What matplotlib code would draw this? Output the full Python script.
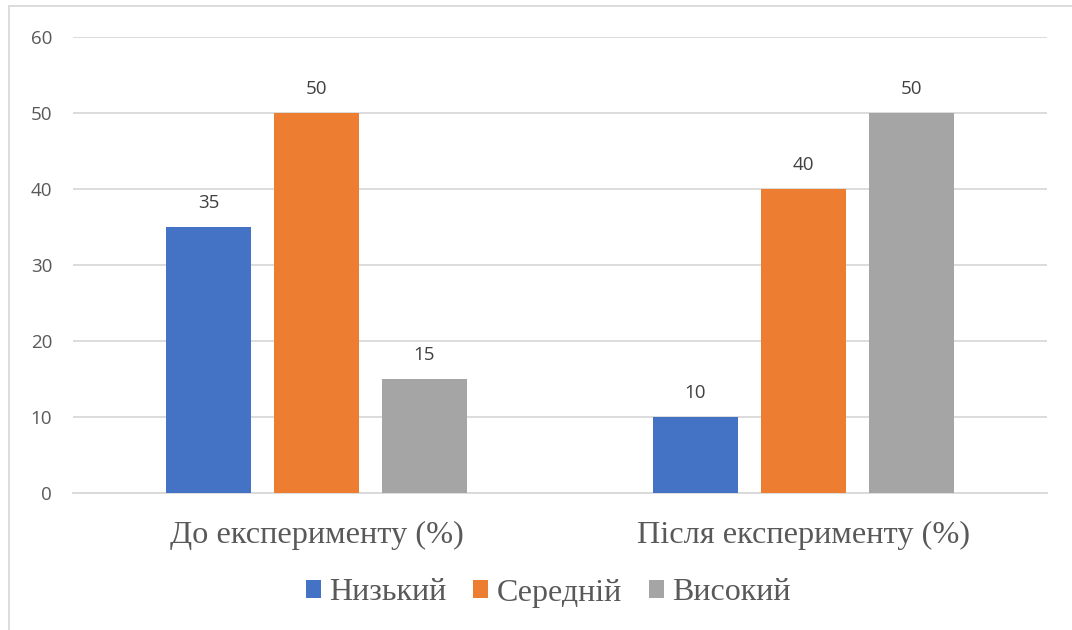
import matplotlib
matplotlib.use("Agg")
import matplotlib.pyplot as plt
from matplotlib.patches import Rectangle
import numpy as np

categories = ["До експерименту (%)", "Після експерименту (%)"]
series_names = ["Низький", "Середній", "Високий"]
low = [35, 10]
mid = [50, 40]
high = [15, 50]
yticks = [0, 10, 20, 30, 40, 50, 60]

colors = ["#4472C4", "#ED7D31", "#A5A5A5"]
text_col = "#595959"

W, H = 1072, 630
fig = plt.figure(figsize=(W / 100, H / 100), dpi=100)
ax = fig.add_axes([73 / W, 1 - 493 / H, (1047 - 73) / W, (493 - 37) / H])

x = np.arange(len(categories))
width = 0.1745
step = 0.2218
for i, (vals, name, c) in enumerate(zip([low, mid, high], series_names, colors)):
    pos = x + (i - 1) * step
    bars = ax.bar(pos, vals, width=width, color=c, label=name, zorder=3)
    for b, v in zip(bars, vals):
        ax.annotate(str(v), (b.get_x() + b.get_width() / 2, v),
                    xytext=(0, 11), textcoords="offset points",
                    ha="center", va="bottom", fontsize=13.5,
                    family="Open Sans", color="#404040")

ax.set_xlim(-0.5, 1.5)
ax.set_ylim(0, 60)
ax.set_yticks(yticks)
ax.set_yticklabels([str(t) for t in yticks], family="Open Sans", fontsize=13.5, color=text_col)
ax.yaxis.grid(True, color="#D9D9D9", linewidth=1.3, zorder=0)
ax.tick_params(axis="y", length=0, pad=15)
ax.tick_params(axis="x", length=0, pad=20)
ax.set_xticks(x)
ax.set_xticklabels(categories, family="Liberation Serif", fontsize=23.3, color=text_col)
for s in ["top", "right", "left"]:
    ax.spines[s].set_visible(False)
ax.spines["bottom"].set_color("#D9D9D9")
ax.spines["bottom"].set_linewidth(1.3)

leg = fig.legend(loc="center", bbox_to_anchor=(548 / W, 1 - 593 / H), ncol=3,
                 frameon=False, prop={"family": "Liberation Serif", "size": 23},
                 handlelength=0.47, handleheight=0.47, handletextpad=0.25,
                 columnspacing=0.85)
for t in leg.get_texts():
    t.set_color(text_col)

# outer chart frame (top and left edges visible)
fig.patches.append(Rectangle((9 / W, -0.1), 1.1, 1 - 6 / H + 0.1,
                             transform=fig.transFigure, fill=False,
                             edgecolor="#D9D9D9", linewidth=1.3))

fig.savefig("out.png", dpi=100)
